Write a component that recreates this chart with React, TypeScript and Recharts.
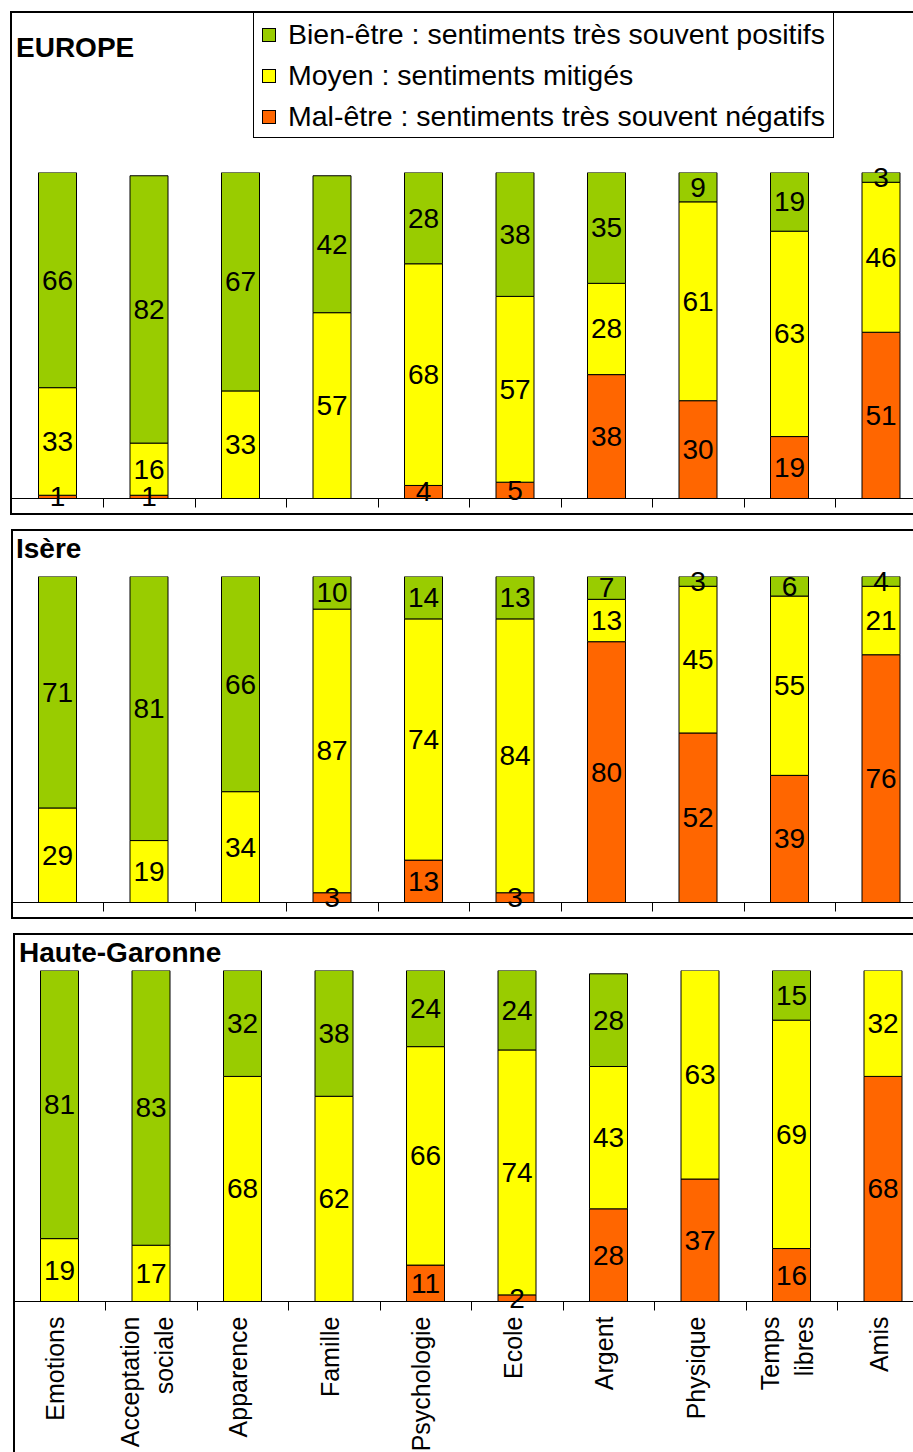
import React from 'react';
import { BarChart, Bar, XAxis, YAxis, LabelList, Legend } from 'recharts';

const FONT = '"Liberation Sans", Arial, Helvetica, sans-serif';
const GREEN = '#99CC00';
const YELLOW = '#FFFF00';
const ORANGE = '#FF6600';

const categories = [
  'Emotions',
  'Acceptation\nsociale',
  'Apparence',
  'Famille',
  'Psychologie',
  'Ecole',
  'Argent',
  'Physique',
  'Temps\nlibres',
  'Amis',
];

const seriesNames = {
  bien: 'Bien-être : sentiments très souvent positifs',
  moyen: 'Moyen : sentiments mitigés',
  mal: 'Mal-être : sentiments très souvent négatifs',
};
const legendOrder = [seriesNames.bien, seriesNames.moyen, seriesNames.mal];

// EUROPE (%)
const europeBien = [66, 82, 67, 42, 28, 38, 35, 9, 19, 3];
const europeMoyen = [33, 16, 33, 57, 68, 57, 28, 61, 63, 46];
const europeMal = [1, 1, 0, 0, 4, 5, 38, 30, 19, 51];

// Isère (%)
const isereBien = [71, 81, 66, 10, 14, 13, 7, 3, 6, 4];
const isereMoyen = [29, 19, 34, 87, 74, 84, 13, 45, 55, 21];
const isereMal = [0, 0, 0, 3, 13, 3, 80, 52, 39, 76];

// Haute-Garonne (%)
const hgBien = [81, 83, 32, 38, 24, 24, 28, 0, 15, 0];
const hgMoyen = [19, 17, 68, 62, 66, 74, 43, 63, 69, 32];
const hgMal = [0, 0, 0, 0, 11, 2, 28, 37, 16, 68];

const buildRows = (mal: number[], moyen: number[], bien: number[]) =>
  categories.map((cat, i) => ({ cat, mal: mal[i], moyen: moyen[i], bien: bien[i] }));

const SVG_W = 940;
const PLOT_W = 915;
const TICK_LEN = 9;

function ValueLabel(props: any) {
  const { value } = props;
  if (!value) return null;
  const vb = props.viewBox && props.viewBox.width !== undefined ? props.viewBox : props;
  const cx = vb.x + vb.width / 2;
  const cy = vb.y + vb.height / 2;
  return (
    <text
      x={cx}
      y={cy}
      textAnchor="middle"
      dominantBaseline="central"
      fontSize={28}
      fontFamily={FONT}
      fill="#000"
    >
      {value}
    </text>
  );
}

// Draws the tick mark on the boundary after each category band,
// plus the rotated category name when requested.
function CategoryTick(props: any) {
  const { x, y, payload, width, visibleTicksCount, showText } = props;
  const band = width && visibleTicksCount ? width / visibleTicksCount : PLOT_W / categories.length;
  const sepX = Math.round(x + band / 2) + 0.5;
  const lines = String(payload.value).split('\n');
  const gap = 34;
  return (
    <g>
      <line x1={sepX} x2={sepX} y1={y} y2={y + TICK_LEN} stroke="#000" strokeWidth={1} />
      {showText &&
        lines.map((ln, i) => {
          const bx = x + (i - (lines.length - 1) / 2) * gap + 5;
          return (
            <text
              key={i}
              transform={`translate(${bx},${y + 15}) rotate(-90)`}
              textAnchor="end"
              fontSize={25}
              fontFamily={FONT}
              fill="#000"
            >
              {ln}
            </text>
          );
        })}
    </g>
  );
}

function LegendBox(props: any) {
  const items = [...(props.payload ?? [])].sort(
    (a: any, b: any) => legendOrder.indexOf(a.value) - legendOrder.indexOf(b.value)
  );
  return (
    <div
      style={{
        width: 579,
        height: 123,
        paddingTop: 1,
        border: '1px solid #000',
        background: '#fff',
        fontFamily: FONT,
        fontSize: 28.5,
        color: '#000',
      }}
    >
      {items.map((it: any) => (
        <div
          key={it.value}
          style={{ display: 'flex', alignItems: 'center', height: 41, paddingLeft: 8 }}
        >
          <span
            style={{
              display: 'inline-block',
              width: 12,
              height: 12,
              border: '1px solid #000',
              background: it.color,
              marginRight: 12,
              flex: 'none',
            }}
          />
          <span style={{ whiteSpace: 'nowrap', lineHeight: '41px' }}>{it.value}</span>
        </div>
      ))}
    </div>
  );
}

type PanelProps = {
  rows: { cat: string; mal: number; moyen: number; bien: number }[];
  svgTop: number;
  svgH: number;
  plotTop: number;
  plotH: number;
  plotLeft: number;
  showCategories?: boolean;
  showLegend?: boolean;
};

function Panel({ rows, svgTop, svgH, plotTop, plotH, plotLeft, showCategories, showLegend }: PanelProps) {
  const axisH = showCategories ? 140 : 12;
  const mt = plotTop - svgTop;
  const mb = svgH - mt - plotH - axisH;
  return (
    <div style={{ position: 'absolute', left: 0, top: svgTop }}>
      <BarChart
        width={SVG_W}
        height={svgH}
        data={rows}
        margin={{ top: mt, bottom: mb, left: plotLeft, right: SVG_W - plotLeft - PLOT_W }}
        barSize={38}
      >
        <YAxis hide type="number" domain={[0, 100]} allowDataOverflow />
        <XAxis
          dataKey="cat"
          height={axisH}
          interval={0}
          axisLine={{ stroke: '#000', strokeWidth: 1 }}
          tickLine={false}
          tickSize={0}
          tickMargin={0}
          tick={<CategoryTick showText={!!showCategories} />}
        />
        {showLegend && (
          <Legend
            layout="vertical"
            align="center"
            verticalAlign="middle"
            wrapperStyle={{ left: 253, top: 12 - svgTop, width: 'auto', height: 'auto' }}
            content={<LegendBox />}
          />
        )}
        <Bar dataKey="mal" name={seriesNames.mal} stackId="s" fill={ORANGE} stroke="#000" strokeWidth={1} isAnimationActive={false}>
          <LabelList dataKey="mal" content={<ValueLabel />} />
        </Bar>
        <Bar dataKey="moyen" name={seriesNames.moyen} stackId="s" fill={YELLOW} stroke="#000" strokeWidth={1} isAnimationActive={false}>
          <LabelList dataKey="moyen" content={<ValueLabel />} />
        </Bar>
        <Bar dataKey="bien" name={seriesNames.bien} stackId="s" fill={GREEN} stroke="#000" strokeWidth={1} isAnimationActive={false}>
          <LabelList dataKey="bien" content={<ValueLabel />} />
        </Bar>
      </BarChart>
    </div>
  );
}

const frame = (left: number, top: number, height: number): React.CSSProperties => ({
  position: 'absolute',
  left,
  top,
  width: 960,
  height,
  border: '2px solid #000',
  boxSizing: 'border-box',
  background: '#fff',
});

const titleStyle = (left: number, top: number): React.CSSProperties => ({
  position: 'absolute',
  left,
  top,
  fontFamily: FONT,
  fontWeight: 'bold',
  fontSize: 28,
  lineHeight: '28px',
  color: '#000',
  whiteSpace: 'nowrap',
});

export default function App() {
  return (
    <div
      style={{
        position: 'absolute',
        left: 0,
        top: 0,
        width: 913,
        height: 1452,
        overflow: 'hidden',
        background: '#fff',
      }}
    >
      <div style={frame(10, 11, 504)} />
      <div style={frame(11, 529, 390)} />
      <div style={frame(13, 933, 600)} />

      <div style={titleStyle(16, 34)}>EUROPE</div>
      <div style={titleStyle(16, 535)}>Isère</div>
      <div style={titleStyle(19, 939)}>Haute-Garonne</div>

      <Panel
        rows={buildRows(europeMal, europeMoyen, europeBien)}
        svgTop={0}
        svgH={515}
        plotTop={172.5}
        plotH={326}
        plotLeft={11.5}
        showLegend
      />
      <Panel
        rows={buildRows(isereMal, isereMoyen, isereBien)}
        svgTop={540}
        svgH={378}
        plotTop={576.5}
        plotH={326}
        plotLeft={11.5}
      />
      <Panel
        rows={buildRows(hgMal, hgMoyen, hgBien)}
        svgTop={945}
        svgH={507}
        plotTop={970.5}
        plotH={331}
        plotLeft={13.5}
        showCategories
      />
    </div>
  );
}
